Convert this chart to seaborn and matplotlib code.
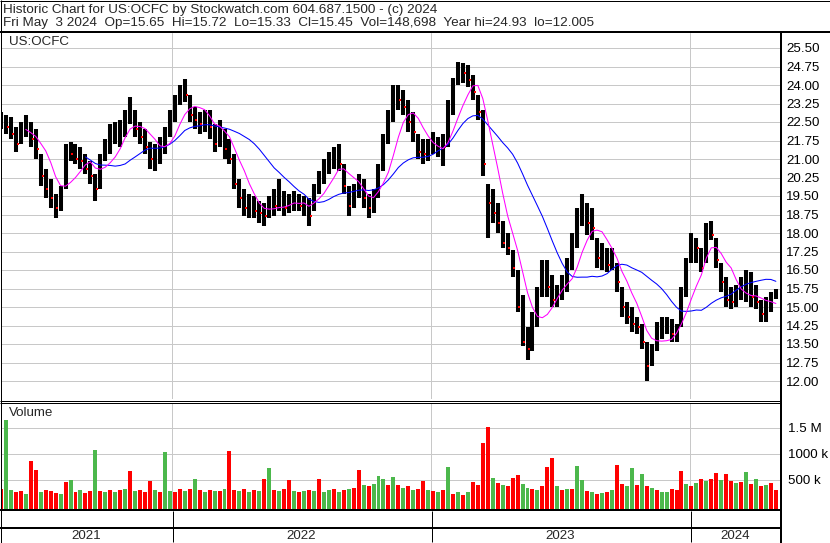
import numpy as np
import pandas as pd
import matplotlib
matplotlib.use("Agg")
import matplotlib.pyplot as plt
import matplotlib.dates as mdates
from matplotlib.lines import Line2D
import seaborn as sns

# ---------------- data (weekly) ----------------
week_end = pd.date_range("2021-05-07", "2024-05-03", freq="W-FRI")

high = [22.9, 22.8, 22.7, 22.3, 22.5, 22.8, 22.5, 22.2, 21.2, 20.6,
        20.2, 19.6, 19.9, 21.6, 21.7, 21.6, 21.5, 21.2, 20.9, 20.4,
        21.2, 21.8, 22.4, 22.5, 22.6, 23.0, 23.5, 23.0, 22.5, 22.2,
        21.7, 21.6, 21.9, 22.3, 23.0, 23.6, 24.0, 24.25, 23.6, 23.1,
        22.9, 23.0, 23.0, 22.4, 22.6, 22.2, 21.8, 21.2, 20.2, 19.8,
        19.6, 19.5, 19.3, 19.2, 19.5, 19.8, 20.2, 19.7, 19.6, 19.7,
        19.6, 19.5, 19.4, 20.0, 20.5, 21.0, 21.3, 21.5, 21.6, 20.8,
        19.9, 20.0, 20.4, 20.2, 19.6, 19.8, 20.8, 22.0, 23.0, 24.0,
        24.0, 23.8, 23.4, 22.9, 22.0, 21.8, 21.8, 22.1, 21.9, 22.0,
        23.4, 24.3, 24.93, 24.9, 24.8, 24.4, 23.6, 23.0, 20.0, 19.8,
        19.2, 18.5, 18.0, 17.3, 16.5, 15.5, 14.2, 14.8, 15.8, 16.9,
        16.9, 16.3, 15.9, 16.3, 17.0, 18.0, 19.0, 19.6, 19.2, 19.0,
        17.8, 17.6, 17.4, 17.4, 16.8, 15.8, 15.2, 15.0, 14.6, 14.3,
        13.6, 13.5, 14.4, 14.6, 14.6, 14.5, 14.3, 15.8, 17.0, 18.0,
        17.8, 17.4, 18.4, 18.5, 17.8, 16.8, 16.2, 15.8, 15.9, 16.2,
        16.5, 16.4, 15.9, 15.3, 15.4, 15.6, 15.72]

low = [22.2, 22.0, 21.8, 21.3, 21.6, 21.9, 21.5, 21.0, 19.9, 19.4,
       19.0, 18.6, 18.9, 19.8, 20.9, 20.8, 20.6, 20.4, 20.0, 19.3,
       19.8, 20.9, 21.2, 21.6, 21.5, 21.9, 22.4, 21.9, 21.6, 21.2,
       20.6, 20.5, 20.8, 21.2, 21.9, 22.5, 23.2, 23.3, 22.5, 22.2,
       22.0, 22.1, 21.8, 21.3, 21.5, 21.0, 20.8, 19.8, 19.0, 18.7,
       18.6, 18.6, 18.4, 18.3, 18.6, 18.7, 18.9, 18.7, 18.8, 18.9,
       18.9, 18.7, 18.3, 18.9, 19.6, 20.0, 20.4, 20.6, 20.5, 19.6,
       18.7, 19.0, 19.4, 19.0, 18.6, 18.8, 19.4, 20.5, 21.6, 22.5,
       23.0, 22.8, 22.1, 21.7, 21.0, 20.8, 20.9, 21.2, 21.1, 20.7,
       21.5, 22.8, 24.0, 24.1, 23.9, 23.4, 22.6, 20.3, 17.8, 18.4,
       18.0, 17.4, 17.1, 16.2, 14.8, 13.4, 12.85, 13.2, 14.2, 15.4,
       15.4, 15.0, 15.0, 15.3, 15.6, 16.5, 17.4, 18.3, 17.9, 17.7,
       16.6, 16.5, 16.4, 16.5, 15.6, 14.6, 14.3, 14.0, 13.9, 13.3,
       12.0, 12.6, 13.2, 13.7, 13.9, 13.6, 13.6, 14.2, 15.4, 16.8,
       16.8, 16.4, 16.8, 17.7, 16.6, 15.6, 15.0, 14.9, 15.0, 15.3,
       15.2, 15.0, 14.9, 14.4, 14.4, 14.8, 15.33]

close = [22.6, 22.3, 22.0, 21.6, 22.2, 22.5, 21.8, 21.4, 20.3, 19.8,
         19.4, 19.0, 19.6, 21.3, 21.2, 21.0, 20.9, 20.6, 20.3, 19.8,
         20.9, 21.5, 22.0, 22.0, 22.3, 22.5, 23.0, 22.2, 21.9, 21.5,
         21.0, 21.2, 21.4, 22.0, 22.7, 23.3, 23.8, 23.6, 22.8, 22.6,
         22.4, 22.8, 22.3, 21.6, 22.3, 21.4, 21.0, 20.0, 19.4, 19.0,
         19.2, 18.9, 18.8, 18.7, 19.2, 19.1, 19.5, 19.0, 19.2, 19.3,
         19.1, 19.2, 18.7, 19.8, 20.2, 20.6, 21.0, 21.1, 20.8, 19.9,
         19.1, 19.6, 20.0, 19.4, 19.0, 19.5, 20.6, 21.7, 22.6, 23.5,
         23.4, 23.1, 22.5, 22.1, 21.3, 21.2, 21.4, 21.5, 21.6, 21.5,
         22.8, 24.0, 24.6, 24.5, 24.2, 23.7, 22.9, 20.8, 19.2, 18.8,
         18.4, 17.6, 17.4, 16.6, 15.0, 13.6, 13.3, 14.0, 15.2, 16.3,
         15.8, 15.3, 15.5, 16.0, 16.7, 17.6, 18.6, 18.9, 18.4, 18.2,
         17.0, 17.2, 16.7, 16.8, 16.0, 15.0, 14.6, 14.3, 14.2, 13.6,
         12.6, 13.1, 14.0, 14.2, 14.3, 13.9, 14.1, 15.4, 16.8, 17.5,
         17.4, 16.6, 18.2, 17.9, 16.9, 16.0, 15.3, 15.2, 15.4, 15.6,
         15.9, 15.4, 15.2, 14.7, 14.8, 15.3, 15.45]

volume_k = [330, 1650, 300, 260, 280, 240, 860, 690, 260, 300,
            280, 250, 240, 460, 500, 270, 300, 250, 280, 1080,
            290, 260, 310, 270, 300, 330, 670, 280, 300, 260,
            480, 300, 270, 1040, 290, 260, 320, 280, 330, 510,
            300, 260, 310, 280, 290, 330, 1060, 300, 280, 330,
            270, 310, 290, 510, 730, 300, 280, 320, 500, 290,
            260, 280, 300, 290, 520, 260, 300, 330, 270, 310,
            330, 350, 700, 400, 380, 420, 580, 520, 400, 560,
            400, 350, 380, 300, 330, 480, 300, 280, 260, 300,
            750, 240, 260, 220, 270, 460, 400, 1220, 1520, 540,
            450, 400, 380, 540, 600, 420, 350, 330, 300, 380,
            750, 920, 380, 300, 330, 320, 760, 500, 290, 260,
            230, 250, 260, 300, 790, 420, 380, 730, 400, 620,
            380, 350, 300, 270, 260, 330, 300, 670, 420, 380,
            450, 520, 480, 510, 630, 500, 610, 480, 450, 470,
            650, 420, 510, 380, 400, 450, 300]

vol_dir = ("rggrrgrrgr" "rrgrgrgrrg" "rgrgrgrgrr" "rgrggrrgrg" "rgrgrgrrgr"
           "grgrgrgrrg" "rgrgrggrgr" "grrgrgggrg" "rgrgrrgrgr" "grgrgrrrrg"
           "rgrrrggrgr" "rrgrgrggrg" "rgrgrrggrg" "rgrggrrrgr" "grgrrgrrgr"
           "grgrgrr")

price_ticks = [12.00, 12.75, 13.50, 14.25, 15.00, 15.75, 16.50, 17.25, 18.00,
               18.75, 19.50, 20.25, 21.00, 21.75, 22.50, 23.25, 24.00, 24.75, 25.50]
vol_ticks = [500000, 1000000, 1500000]
vol_tick_labels = ["500 k", "1000 k", "1.5 M"]
years = ["2021", "2022", "2023", "2024"]
ma_fast_weeks = 6
ma_slow_weeks = 18

header1 = "Historic Chart for US:OCFC by Stockwatch.com 604.687.1500 - (c) 2024"
header2 = ("Fri May  3 2024  Op=15.65  Hi=15.72  Lo=15.33  Cl=15.45  "
           "Vol=148,698  Year hi=24.93  lo=12.005")

# ---------------- style ----------------
sns.set_style("white")
plt.rcParams["font.family"] = ["Liberation Sans", "DejaVu Sans"]
FS = 9.6
FSH = 9.7

W, H = 830, 543
fig = plt.figure(figsize=(W / 100, H / 100), dpi=100)
fig.patch.set_facecolor("white")


def fx(x):
    return x / W


def fy(y):
    return 1 - y / H


def hline(y, x0, x1, px=1, color="black"):
    fig.add_artist(Line2D([fx(x0), fx(x1)], [fy(y), fy(y)], lw=px * 0.72,
                          color=color, solid_capstyle="butt"))


def vline(x, y0, y1, px=1, color="black"):
    fig.add_artist(Line2D([fx(x), fx(x)], [fy(y0), fy(y1)], lw=px * 0.72,
                          color=color, solid_capstyle="butt"))


# date scale
d2022 = mdates.date2num(pd.Timestamp("2022-01-01"))
d2024 = mdates.date2num(pd.Timestamp("2024-01-01"))
ppd = (690 - 172) / (d2024 - d2022)
xmin = d2022 - (172 - 1) / ppd
xmax = d2024 + (780 - 690) / ppd
year_lines = [mdates.date2num(pd.Timestamp(f"{y}-01-01")) for y in ("2022", "2023", "2024")]

xdates = mdates.date2num(week_end) - 2.0
df = pd.DataFrame({"x": xdates, "high": high, "low": low, "close": close,
                   "vol": np.array(volume_k) * 1000.0, "dir": list(vol_dir)})
df["ma_fast"] = df["close"].rolling(ma_fast_weeks).mean()
df["ma_slow"] = df["close"].rolling(ma_slow_weeks).mean()

# ---------------- price panel ----------------
pax = fig.add_axes([fx(1), fy(399), fx(780) - fx(1), fy(33) - fy(399)])
pax.set_facecolor("white")
pax.set_xlim(xmin, xmax)
ppu = 18.5 / 0.75
pax.set_ylim(25.5 - (399 - 48) / ppu, 25.5 + (48 - 33) / ppu)
for t in price_ticks:
    pax.axhline(t, color="#c8c8c8", lw=0.72, zorder=0)
for yl in year_lines:
    pax.axvline(yl, color="#c8c8c8", lw=0.72, zorder=0)

pax.vlines(df["x"], df["low"], df["high"], color="black", lw=2.9, zorder=2)
down = df["close"] < df["close"].shift(1)
pax.scatter(df.loc[down, "x"] + 2.5, df.loc[down, "close"], marker="s", s=2.2,
            color="#ff0000", linewidths=0, zorder=3)

sns.lineplot(data=df.dropna(subset=["ma_slow"]), x="x", y="ma_slow", ax=pax,
             color="#0000ff", lw=0.75, zorder=4)
sns.lineplot(data=df.dropna(subset=["ma_fast"]), x="x", y="ma_fast", ax=pax,
             color="#ff00ff", lw=0.75, zorder=5)

pax.yaxis.tick_right()
pax.set_yticks(price_ticks)
pax.set_yticklabels([f"{t:.2f}" for t in price_ticks], fontsize=FS)
pax.tick_params(axis="y", length=0, pad=4.5, colors="black")
pax.set_xticks([])
pax.set_xlabel("")
pax.set_ylabel("")
for s in pax.spines.values():
    s.set_visible(False)

# ---------------- volume panel ----------------
vax = fig.add_axes([fx(1), fy(510), fx(780) - fx(1), fy(403) - fy(510)])
vax.set_facecolor("white")
vax.set_xlim(xmin, xmax)
vpp = 500000 / 26.0
vbot = -(510 - 506) * vpp
vax.set_ylim(vbot, (506 - 403) * vpp)
for t in vol_ticks:
    vax.axhline(t, color="#c8c8c8", lw=0.72, zorder=0)
for yl in year_lines:
    vax.axvline(yl, color="#c8c8c8", lw=0.72, zorder=0)
colors = ["#4cb84c" if d == "g" else "#ff0000" for d in df["dir"]]
vax.bar(df["x"], df["vol"] - vbot, bottom=vbot, width=5.6, color=colors,
        linewidth=0, zorder=2)
vax.yaxis.tick_right()
vax.set_yticks(vol_ticks)
vax.set_yticklabels(vol_tick_labels, fontsize=FS)
vax.tick_params(axis="y", length=0, pad=5.5, colors="black")
vax.set_xticks([])
vax.set_xlabel("")
vax.set_ylabel("")
for s in vax.spines.values():
    s.set_visible(False)

# ---------------- frame lines ----------------
hline(0.5, 0, W, 1)
hline(542.5, 0, W, 1)
vline(0.5, 0, H, 1)
vline(829.5, 0, H, 1)
hline(31.5, 0, W, 2)
vline(781, 31, H, 2)
hline(400.5, 0, 781, 1)
hline(402.5, 0, 781, 1)
hline(510, 0, 781, 2)
hline(527.5, 0, 781, 2)
for yl in year_lines:
    xp = 1 + (yl - xmin) * ppd
    vline(round(xp) + 0.5, 511, 542, 1)

# ---------------- texts ----------------
fig.text(fx(3), fy(9.5), header1, fontsize=FSH, va="center", ha="left")
fig.text(fx(3), fy(23), header2, fontsize=FSH, va="center", ha="left")
fig.text(fx(9), fy(42), "US:OCFC", fontsize=FS, va="center", ha="left")
fig.text(fx(9), fy(413), "Volume", fontsize=FS, va="center", ha="left")
year_centers = [86, 301, 560, 735]
for ylab, xc in zip(years, year_centers):
    fig.text(fx(xc), fy(536), ylab, fontsize=FS, va="center", ha="center")

fig.savefig("out.png", dpi=100)
